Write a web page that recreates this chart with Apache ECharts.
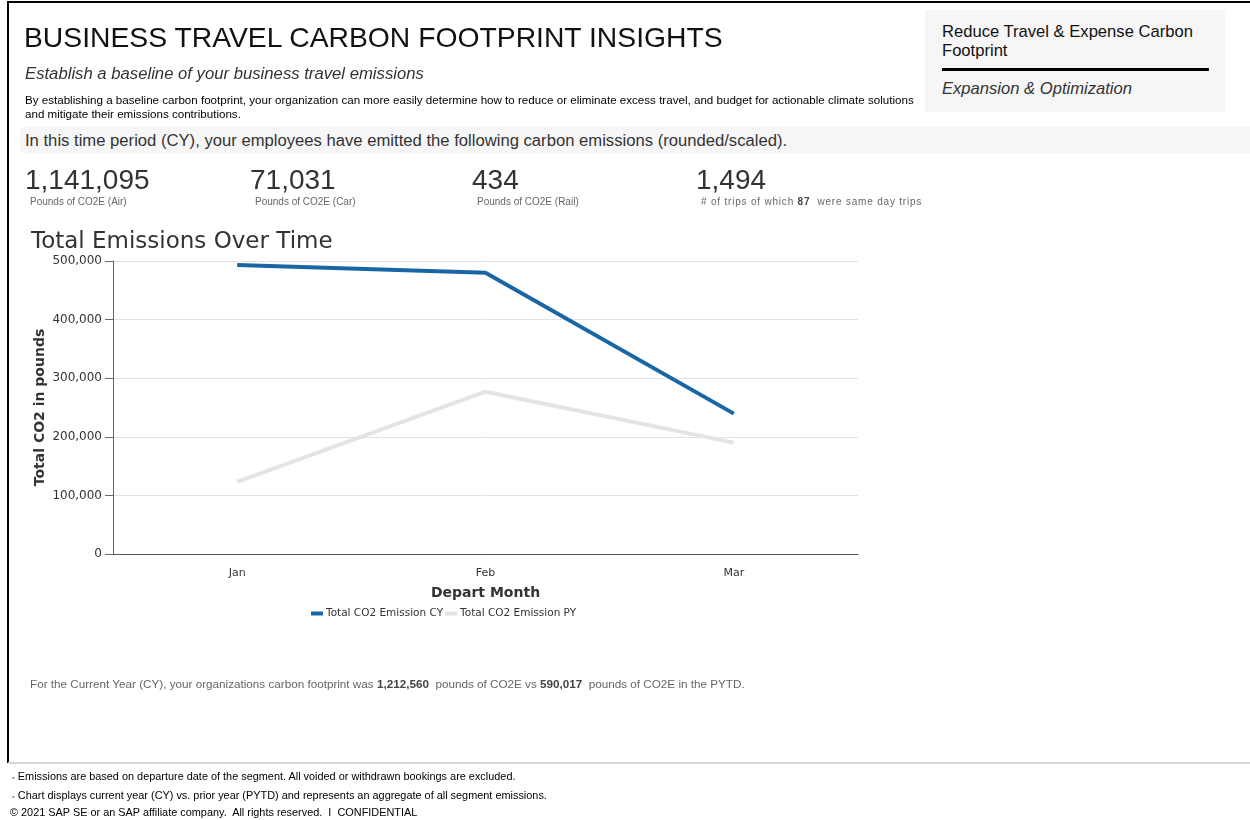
<!DOCTYPE html>
<html>
<head>
<meta charset="utf-8">
<script src="https://cdn.jsdelivr.net/npm/echarts@6/dist/echarts.min.js"></script>
<style>
  html, body { margin:0; padding:0; width:1250px; height:820px; background:#fff; overflow:hidden; }
  body { position:relative; font-family:"Liberation Sans", Arial, sans-serif; }
  .abs { position:absolute; white-space:nowrap; }
  #chart { position:absolute; left:0; top:0; width:1250px; height:820px; }
</style>
</head>
<body>
<div id="chart"></div>
<div class="abs" style="left:7px;top:1px;width:1243px;height:2px;background:#000;"></div>
<div class="abs" style="left:7px;top:1px;width:2px;height:762px;background:#000;"></div>
<div class="abs" style="left:8px;top:762px;width:1242px;height:2px;background:#d6d6d6;"></div>

<div class="abs" style="left:24px;top:21px;font-size:28.3px;color:#111;">BUSINESS TRAVEL CARBON FOOTPRINT INSIGHTS</div>
<div class="abs" style="left:25px;top:64px;font-size:16.7px;font-style:italic;color:#333;">Establish a baseline of your business travel emissions</div>
<div class="abs" style="left:25px;top:93px;font-size:11.6px;color:#000;line-height:13.5px;">By establishing a baseline carbon footprint, your organization can more easily determine how to reduce or eliminate excess travel, and budget for actionable climate solutions<br>and mitigate their emissions contributions.</div>
<div class="abs" style="left:20px;top:127px;width:1230px;height:26px;background:#f6f6f6;"></div>
<div class="abs" style="left:25px;top:131px;font-size:16.65px;color:#333;">In this time period (CY), your employees have emitted the following carbon emissions (rounded/scaled).</div>

<div id="kpis"></div>

<div class="abs" style="left:925px;top:10px;width:300px;height:102px;background:#f6f6f6;"></div>
<div class="abs" style="left:942px;top:22px;font-size:16.6px;color:#111;line-height:19px;">Reduce Travel &amp; Expense Carbon<br>Footprint</div>
<div class="abs" style="left:942px;top:68px;width:267px;height:3px;background:#000;"></div>
<div class="abs" style="left:942px;top:79px;font-size:16.6px;font-style:italic;color:#333;">Expansion &amp; Optimization</div>

<div class="abs" style="left:30px;top:677px;font-size:11.7px;color:#666;">For the Current Year (CY), your organizations carbon footprint was <b style="color:#444">1,212,560</b>&nbsp; pounds of CO2E vs <b style="color:#444">590,017</b>&nbsp; pounds of CO2E in the PYTD.</div>

<div class="abs" style="left:12px;top:770px;font-size:10.9px;color:#000;"><span style="color:#888;font-size:8px;">•</span> Emissions are based on departure date of the segment. All voided or withdrawn bookings are excluded.</div>
<div class="abs" style="left:12px;top:789px;font-size:10.9px;color:#000;"><span style="color:#888;font-size:8px;">•</span> Chart displays current year (CY) vs. prior year (PYTD) and represents an aggregate of all segment emissions.</div>
<div class="abs" style="left:10px;top:806px;font-size:10.9px;color:#000;">© 2021 SAP SE or an SAP affiliate company.&nbsp; All rights reserved.&nbsp; I&nbsp; CONFIDENTIAL</div>

<script>
// ---- data ----
const months = ["Jan", "Feb", "Mar"];
const emissionsCY = [493000, 480000, 239560];
const emissionsPY = [123000, 277000, 190017];
const yTicks = [0, 100000, 200000, 300000, 400000, 500000];
const kpiValues = ["1,141,095", "71,031", "434", "1,494"];
const kpiLabels = ["Pounds of CO2E (Air)", "Pounds of CO2E (Car)", "Pounds of CO2E (Rail)", "# of trips of which <b style=\"color:#444\">87</b>&nbsp;&nbsp;were same day trips"];
const seriesNames = ["Total CO2 Emission CY", "Total CO2 Emission PY"];

// KPI row
const kpiX = [25, 250, 472, 696];
const kpiHost = document.getElementById('kpis');
kpiValues.forEach((v, i) => {
  const a = document.createElement('div');
  a.className = 'abs';
  a.style.cssText = `left:${kpiX[i]}px;top:164px;font-size:28px;color:#333;`;
  a.textContent = v;
  kpiHost.appendChild(a);
  const b = document.createElement('div');
  b.className = 'abs';
  b.style.cssText = `left:${kpiX[i] + 5}px;top:196px;font-size:10px;color:#666;` + (i === 3 ? 'letter-spacing:0.8px;' : '');
  b.innerHTML = kpiLabels[i];
  kpiHost.appendChild(b);
});

const chart = echarts.init(document.getElementById('chart'), null, { renderer: 'canvas' });
const fnt = '"DejaVu Sans", sans-serif';
chart.setOption({
  animation: false,
  textStyle: { fontFamily: fnt },
  title: {
    text: 'Total Emissions Over Time',
    left: 26, top: 226,
    textStyle: { fontFamily: fnt, fontSize: 23, fontWeight: 'normal', color: '#333' }
  },
  legend: {
    data: seriesNames,
    left: 306, top: 603,
    icon: 'rect', itemWidth: 12, itemHeight: 4, itemGap: 2,
    textStyle: { fontFamily: fnt, fontSize: 10.5, color: '#333', padding: [0, 0, 0, -2] }
  },
  grid: { left: 113, right: 392, top: 261, bottom: 266 },
  xAxis: {
    type: 'category',
    data: months,
    boundaryGap: true,
    name: 'Depart Month',
    nameLocation: 'middle',
    nameGap: 32,
    nameMoveOverlap: false,
    nameTextStyle: { fontFamily: fnt, fontSize: 14, fontWeight: 'bold', color: '#333' },
    axisLine: { lineStyle: { color: '#555', width: 1 } },
    axisTick: { alignWithLabel: true, length: 5, lineStyle: { color: '#666' } },
    axisLabel: { fontFamily: fnt, fontSize: 11, color: '#333', margin: 14 }
  },
  yAxis: {
    type: 'value',
    min: yTicks[0], max: yTicks[yTicks.length - 1], interval: 100000,
    name: 'Total CO2 in pounds',
    nameLocation: 'middle',
    nameGap: 66,
    nameMoveOverlap: false,
    nameTextStyle: { fontFamily: fnt, fontSize: 14, fontWeight: 'bold', color: '#333' },
    axisLine: { show: true, lineStyle: { color: '#666' } },
    axisTick: { show: true, length: 8, lineStyle: { color: '#666' } },
    axisLabel: {
      fontFamily: fnt, fontSize: 12, color: '#333', margin: 11,
      formatter: v => v.toLocaleString('en-US')
    },
    splitLine: { lineStyle: { color: '#e2e2e2' } }
  },
  series: [
    { name: seriesNames[0], type: 'line', data: emissionsCY, showSymbol: false, symbol: 'none',
      lineStyle: { color: '#1866a6', width: 4 }, itemStyle: { color: '#1866a6' } },
    { name: seriesNames[1], type: 'line', data: emissionsPY, showSymbol: false, symbol: 'none',
      lineStyle: { color: '#e4e4e4', width: 4 }, itemStyle: { color: '#e4e4e4' } }
  ]
});
</script>
</body>
</html>
